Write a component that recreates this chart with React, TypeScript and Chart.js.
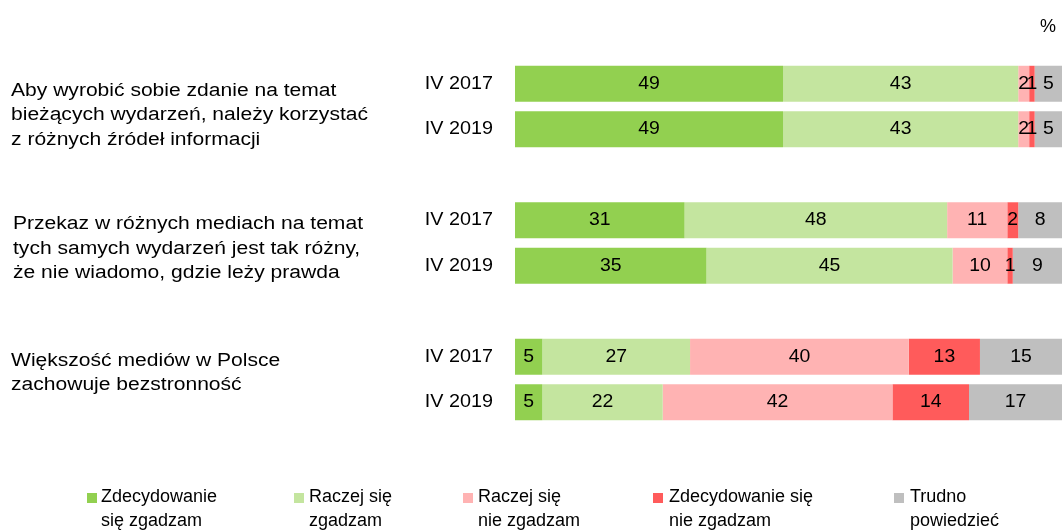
import React, { useEffect, useRef } from "react";
import { Chart, registerables } from "chart.js";

Chart.register(...registerables);

const categories = ["IV 2017", "IV 2019", "", "IV 2017", "IV 2019", "", "IV 2017", "IV 2019"];

const groupLabels: string[][] = [
  ["Aby wyrobić sobie zdanie na temat", "bieżących wydarzeń, należy korzystać", "z różnych źródeł informacji"],
  ["Przekaz w różnych mediach na temat", "tych samych wydarzeń jest tak różny,", "że nie wiadomo, gdzie leży prawda"],
  ["Większość mediów w Polsce", "zachowuje bezstronność"],
];
const groupFirstIndex = [0, 3, 6];

const seriesNames: string[][] = [
  ["Zdecydowanie", "się zgadzam"],
  ["Raczej się", "zgadzam"],
  ["Raczej się", "nie zgadzam"],
  ["Zdecydowanie się", "nie zgadzam"],
  ["Trudno", "powiedzieć"],
];

const strongAgree = [49, 49, null, 31, 35, null, 5, 5];
const agree = [43, 43, null, 48, 45, null, 27, 22];
const disagree = [2, 2, null, 11, 10, null, 40, 42];
const strongDisagree = [1, 1, null, 2, 1, null, 13, 14];
const hardToSay = [5, 5, null, 8, 9, null, 15, 17];

const seriesValues = [strongAgree, agree, disagree, strongDisagree, hardToSay];
const colors = ["#92D050", "#C4E59F", "#FFB3B3", "#FF5B5B", "#BFBFBF"];

const unitLabel = "%";

const FONT = "'Liberation Sans', Arial, sans-serif";

function fillStretched(ctx: CanvasRenderingContext2D, text: string, x: number, y: number, sx: number) {
  ctx.save();
  ctx.translate(x, y);
  ctx.scale(sx, 1);
  ctx.fillText(text, 0, 0);
  ctx.restore();
}

export default function App() {
  const canvasRef = useRef<HTMLCanvasElement | null>(null);

  useEffect(() => {
    document.body.style.margin = "0";
    const canvas = canvasRef.current;
    if (!canvas) return;

    const labelsPlugin = {
      id: "customTexts",
      afterDatasetsDraw(chart: any) {
        const ctx = chart.ctx;
        ctx.save();
        ctx.font = `18px ${FONT}`;
        ctx.fillStyle = "#000";
        ctx.textAlign = "center";
        ctx.textBaseline = "middle";
        chart.data.datasets.forEach((ds: any, di: number) => {
          const meta = chart.getDatasetMeta(di);
          meta.data.forEach((el: any, i: number) => {
            const v = ds.data[i];
            if (v === null || v === undefined) return;
            const p = el.getProps(["x", "y", "base"], true);
            fillStretched(ctx, String(v), (p.x + p.base) / 2, p.y, 1.08);
          });
        });
        ctx.restore();
      },
      afterDraw(chart: any) {
        const ctx = chart.ctx;
        const yScale = chart.scales.y;
        ctx.save();
        ctx.font = `18px ${FONT}`;
        ctx.fillStyle = "#000";
        ctx.textBaseline = "middle";
        // category tick labels
        ctx.textAlign = "right";
        categories.forEach((c, i) => {
          if (!c) return;
          fillStretched(ctx, c, 493, yScale.getPixelForValue(i), 1.1);
        });
        // group labels
        ctx.textAlign = "left";
        const xs = [11, 13, 11];
        const offs = [7, 4, 4];
        groupLabels.forEach((lines, g) => {
          const y0 = yScale.getPixelForValue(groupFirstIndex[g]) + offs[g];
          lines.forEach((line, li) => {
            fillStretched(ctx, line, xs[g], y0 + li * 24.5, 1.17);
          });
        });
        // unit
        ctx.textAlign = "right";
        ctx.fillText(unitLabel, 1056, 27);
        // legend
        ctx.textAlign = "left";
        const sqX = [87, 294, 463, 653, 894];
        const txX = [101, 309, 478, 669, 910];
        seriesNames.forEach((lines, i) => {
          ctx.fillStyle = colors[i];
          ctx.fillRect(sqX[i], 493, 10, 10);
          ctx.fillStyle = "#000";
          lines.forEach((line, li) => {
            ctx.fillText(line, txX[i], 497 + li * 24);
          });
        });
        ctx.restore();
      },
    };

    const chart = new Chart(canvas, {
      type: "bar",
      data: {
        labels: categories,
        datasets: seriesValues.map((vals, i) => ({
          label: seriesNames[i].join(" "),
          data: vals,
          backgroundColor: colors[i],
          borderWidth: 0,
          barPercentage: 0.79,
          categoryPercentage: 1,
        })),
      },
      options: {
        indexAxis: "y",
        responsive: false,
        animation: false,
        layout: { padding: { left: 0, right: 0, top: 61, bottom: 107 } },
        plugins: {
          legend: { display: false },
          tooltip: { enabled: false },
          title: { display: false },
        },
        scales: {
          x: {
            stacked: true,
            min: 0,
            max: 100,
            display: false,
          },
          y: {
            stacked: true,
            grid: { display: false, drawTicks: false },
            border: { display: false },
            ticks: { display: false },
            afterFit(scale: any) {
              scale.width = 515;
            },
          },
        },
      },
      plugins: [labelsPlugin],
    } as any);

    return () => {
      chart.destroy();
    };
  }, []);

  return (
    <div style={{ width: 1062, height: 532 }}>
      <canvas ref={canvasRef} width={1062} height={532} />
    </div>
  );
}
